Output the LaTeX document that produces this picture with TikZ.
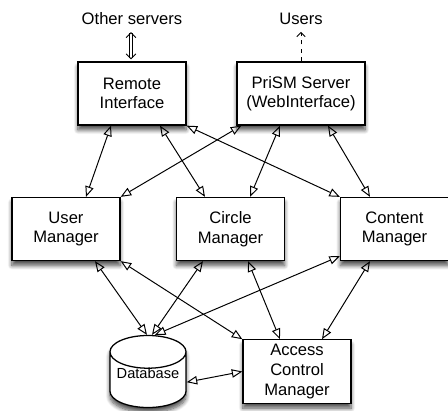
\documentclass[tikz,border=0pt]{standalone}
\usepackage{fontspec}
\setmainfont{Liberation Sans}
\usetikzlibrary{arrows.meta}
\usetikzlibrary{shapes}
\usetikzlibrary{calc}
\usetikzlibrary{shadows.blur}
\tikzset{%
  every module/.style={
    rectangle,
    draw,
    line width=0.9pt,
    fill=white,
    minimum width=2.7cm,
    minimum height=1.575cm,
    align=center,
    font=\fontsize{11.8}{13.9}\selectfont,
    blur shadow={shadow xshift=0pt, shadow yshift=-3.5pt, shadow blur radius=3pt, shadow blur steps=8, shadow opacity=70}
  },
  every store/.style={
    cylinder,
    shape border rotate=90,
    aspect=0.5,
    draw,
    line width=0.9pt,
    fill=white,
    inner sep=1pt,
    minimum width=1.9cm,
    minimum height=1.8cm,
    anchor=shape center,
    font=\fontsize{10.4}{12}\selectfont,
    blur shadow={shadow xshift=0pt, shadow yshift=-3.5pt, shadow blur radius=3pt, shadow blur steps=8, shadow opacity=70}
  },
  link/.style={
    {Triangle[open,length=7.5pt,width=6pt]}-{Triangle[open,length=7.5pt,width=6pt]},
    line width=0.7pt
  },
}

\begin{document}
\begin{tikzpicture}[x=0.025cm,y=-0.025cm]
  \useasboundingbox (0,0) rectangle (448,410);

  \node (os) [font=\fontsize{11.8}{13.9}\selectfont] at (132,19) {Other servers};
  \node (us) [font=\fontsize{11.8}{13.9}\selectfont] at (301,19) {Users};

  \node (ri) [every module] at (132,93.5) {Remote\\Interface};
  \node (ps) [every module,minimum width=3.2cm] at (301,93.5) {PriSM Server\\(WebInterface)};
  \node (um) [every module] at (66,229) {User\\Manager};
  \node (cm) [every module] at (230.5,229) {Circle\\Manager};
  \node (com) [every module] at (394.5,229) {Content\\Manager};
  \node (db) [every store] at (148,371.5) {\raisebox{6.4pt}[\height][\depth]{Database}};
  \node (acm) [every module] at (297,371.5) {Access\\Control\\Manager};

  \draw [{Straight Barb[length=3.5pt,width=7pt]}-{Straight Barb[length=3.5pt,width=7pt]},
    double,double distance=1.2pt,line width=0.6pt]
    ($(ri.north)+(-1,-2)$) -- ($(os.south)+(-1,2)$);
  \draw [-{Straight Barb[length=3pt,width=6pt]},dashed,line width=0.7pt]
    (ps.north) -- ($(us.south)+(0,2)$);

  \draw [link] ($(ri.south)+(-21,0)$) -- ($(um.north)+(20,0)$);
  \draw [link] ($(ri.south)+(28,0)$) -- ($(cm.north)+(-25.5,0)$);
  \draw [link] (ri.south east) -- (com.north west);
  \draw [link] ($(ps.south west)+(5,0)$) -- (um.north east);
  \draw [link] ($(ps.south)+(-21,0)$) -- ($(cm.north)+(19.5,0)$);
  \draw [link] ($(ps.south)+(27,0)$) -- ($(com.north)+(-24.5,0)$);

  \draw [link] ($(um.south)+(29,0)$) -- ($(db.north)+(-1,0)$);
  \draw [link] (um.south east) -- (acm.north west);
  \draw [link] ($(cm.south)+(-27.5,0)$) -- ($(db.north)+(4,0)$);
  \draw [link] ($(cm.south)+(17.5,0)$) -- ($(acm.north)+(-17,0)$);
  \draw [link] ($(com.south west)+(0,-5)$) -- ($(db.north)+(7,0)$);
  \draw [link] ($(com.south)+(-24.5,0)$) -- ($(acm.north)+(25,0)$);
  \draw [link] (db.east) -- (acm.west);
\end{tikzpicture}
\end{document}
